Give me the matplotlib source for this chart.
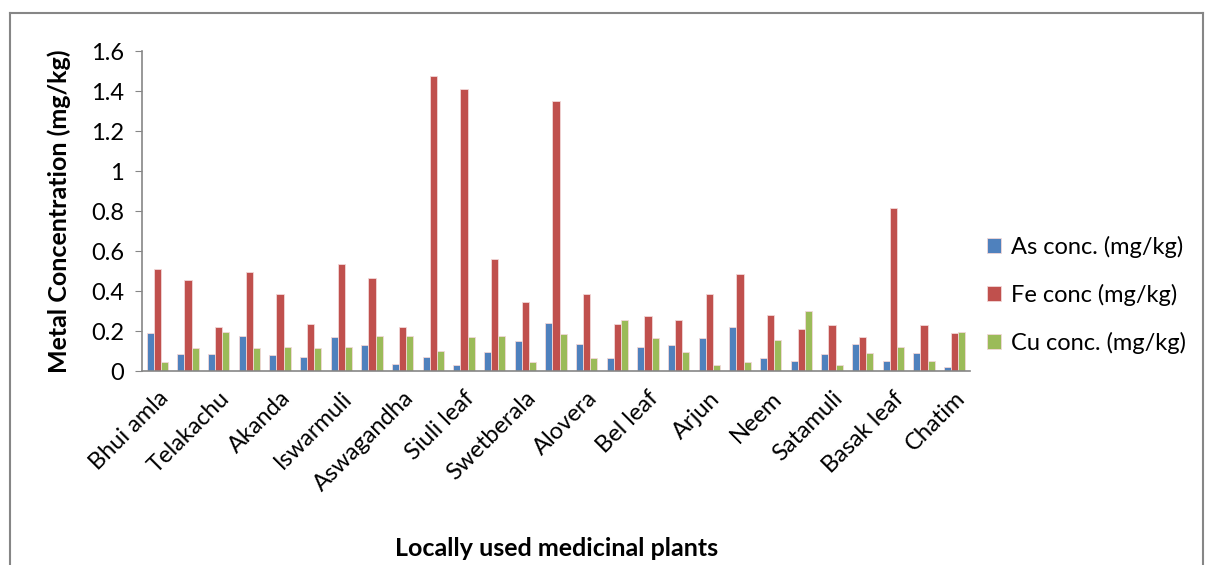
import matplotlib.pyplot as plt
import numpy as np
from matplotlib.lines import Line2D

plt.rcParams['font.family'] = ['Lato', 'DejaVu Sans']

# 27 plants, only every other name is printed on the axis
plants = ['Bhui amla', '', 'Telakachu', '', 'Akanda', '', 'Iswarmuli', '',
          'Aswagandha', '', 'Siuli leaf', '', 'Swetberala', '', 'Alovera', '',
          'Bel leaf', '', 'Arjun', '', 'Neem', '', 'Satamuli', '', 'Basak leaf', '',
          'Chatim']
as_conc = [0.19, 0.085, 0.085, 0.177, 0.078, 0.072, 0.17, 0.128, 0.037, 0.072,
           0.03, 0.093, 0.148, 0.238, 0.133, 0.065, 0.12, 0.128, 0.163, 0.218,
           0.063, 0.05, 0.085, 0.133, 0.05, 0.092, 0.022]
fe_conc = [0.51, 0.455, 0.218, 0.497, 0.385, 0.233, 0.533, 0.463, 0.218, 1.475,
           1.41, 0.56, 0.343, 1.35, 0.385, 0.233, 0.273, 0.253, 0.385, 0.483,
           0.28, 0.21, 0.232, 0.168, 0.817, 0.232, 0.188]
cu_conc = [0.043, 0.113, 0.197, 0.113, 0.12, 0.113, 0.12, 0.177, 0.177, 0.1,
           0.17, 0.177, 0.043, 0.183, 0.065, 0.253, 0.163, 0.093, 0.03, 0.043,
           0.155, 0.302, 0.028, 0.092, 0.118, 0.05, 0.197]
series = ['As conc. (mg/kg)', 'Fe conc (mg/kg)', 'Cu conc. (mg/kg)']
colors = ['#4F81BD', '#C0504D', '#9BBB59']

W, H = 1206, 565
fig = plt.figure(figsize=(W / 100, H / 100), dpi=100)
ax = fig.add_axes([142 / W, 1 - 371 / H, (970 - 142) / W, (371 - 51) / H])

x = np.arange(len(plants))
bw = 0.23
for i, (vals, c, lab) in enumerate(zip([as_conc, fe_conc, cu_conc], colors, series)):
    ax.bar(x + (i - 1) * bw, vals, bw, color=c, label=lab,
           edgecolor='#f2d8d8', linewidth=0.6)

ax.set_xlim(-0.5, len(plants) - 0.5)
ax.set_ylim(0, 1.6)
ax.set_yticks(np.arange(0, 1.61, 0.2))
ax.set_yticklabels(['0', '0.2', '0.4', '0.6', '0.8', '1', '1.2', '1.4', '1.6'])
ax.set_xticks(x)
ax.set_xticklabels(plants, rotation=45, ha='right', rotation_mode='anchor')
ax.tick_params(axis='y', labelsize=17, length=5, color='#868686', pad=8)
ax.tick_params(axis='x', labelsize=17, length=0, pad=12)
for s in ['top', 'right']:
    ax.spines[s].set_visible(False)
for s in ['left', 'bottom']:
    ax.spines[s].set_color('#868686')
    ax.spines[s].set_linewidth(1.2)

ax.set_ylabel('Metal Concentration (mg/kg)', fontsize=18, fontweight='bold', labelpad=14)
fig.text(557 / W, 1 - 549 / H, 'Locally used medicinal plants', fontsize=18,
         fontweight='bold', ha='center', va='center')

ax.legend(loc='center left', bbox_to_anchor=(966 / W, 1 - 295 / H),
          bbox_transform=fig.transFigure, frameon=False, fontsize=17,
          handlelength=0.6, handleheight=0.6, labelspacing=1.1, handletextpad=0.4)

# outer chart border
for xs, ys in [([10, 10], [13, H]), ([10, 1203], [13, 13]), ([1203, 1203], [13, H])]:
    fig.add_artist(Line2D([v / W for v in xs], [1 - v / H for v in ys],
                          color='#868686', linewidth=1.5))

fig.savefig('out.png', dpi=100)
